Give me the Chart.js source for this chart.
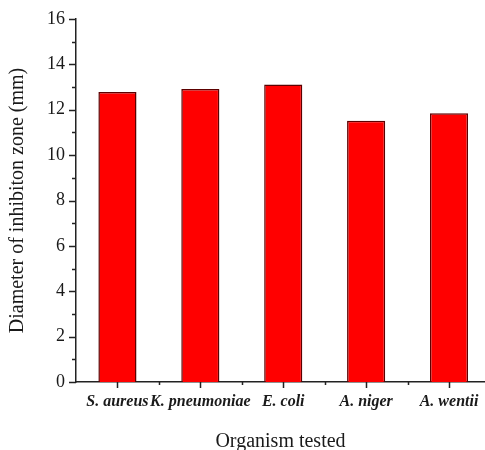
<!DOCTYPE html>
<html>
<head>
<meta charset="utf-8">
<script src="https://cdn.jsdelivr.net/npm/chart.js@4/dist/chart.umd.min.js"></script>
<style>
  html, body { margin: 0; padding: 0; background: #ffffff; }
  #wrap { width: 485px; height: 450px; }
</style>
</head>
<body>
<div id="wrap"><canvas id="chart" width="485" height="450"></canvas></div>
<script>
// Organisms tested and the measured inhibition zone diameters (mm)
const organisms = ['S. aureus', 'K. pneumoniae', 'E. coli', 'A. niger', 'A. wentii'];
const zoneDiameter = [12.78, 12.92, 13.11, 11.52, 11.85];
const yTicks = [0, 2, 4, 6, 8, 10, 12, 14, 16];

const textColor = '#1a1a1a';
const axisColor = '#222222';
const serif = "'Liberation Serif', 'Times New Roman', serif";

// Short outward tick marks: major ticks on labelled values, minor ones between them
const tickMarks = {
  id: 'tickMarks',
  afterDraw(chart) {
    const { ctx, scales: { x, y }, chartArea } = chart;
    ctx.save();
    ctx.strokeStyle = axisColor;
    ctx.lineWidth = 1.5;
    ctx.beginPath();
    // y axis
    for (let v = 0; v <= 16; v += 1) {
      const py = Math.round(y.getPixelForValue(v)) + 0.5;
      const len = v % 2 === 0 ? 7 : 4;
      ctx.moveTo(chartArea.left, py);
      ctx.lineTo(chartArea.left - len, py);
    }
    // x axis
    for (let i = 0; i < organisms.length; i++) {
      const px = Math.round(x.getPixelForValue(i)) + 0.5;
      ctx.moveTo(px, chartArea.bottom);
      ctx.lineTo(px, chartArea.bottom + 6);
      const pm = Math.round(x.getPixelForValue(i + 0.5)) + 0.5;
      if (pm < chart.width) {
        ctx.moveTo(pm, chartArea.bottom);
        ctx.lineTo(pm, chartArea.bottom + 3);
      }
    }
    ctx.stroke();
    ctx.restore();
  }
};

new Chart(document.getElementById('chart'), {
  type: 'bar',
  data: {
    datasets: [{
      data: organisms.map((name, i) => ({ x: i, y: zoneDiameter[i] })),
      backgroundColor: '#ff0000',
      borderColor: '#5c0000',
      borderWidth: 1.5,
      barPercentage: 0.46,
      categoryPercentage: 1
    }]
  },
  plugins: [tickMarks],
  options: {
    responsive: false,
    animation: false,
    devicePixelRatio: 1,
    layout: { padding: { top: 19, right: 0, bottom: 0, left: 0 } },
    plugins: { legend: { display: false }, tooltip: { enabled: false } },
    scales: {
      x: {
        type: 'linear',
        offset: false,
        min: -0.5,
        max: 4.434,
        afterBuildTicks(scale) {
          scale.ticks = organisms.map((_, i) => ({ value: i }));
        },
        afterFit(scale) {
          scale.height = 68;
          scale.paddingLeft = 0;
          scale.paddingRight = 0;
        },
        grid: { display: false, drawTicks: false, offset: false },
        border: { display: true, color: axisColor, width: 1.5 },
        ticks: {
          autoSkip: false,
          maxRotation: 0,
          padding: 10,
          color: textColor,
          font: { family: serif, size: 16, weight: 'bold', style: 'italic' },
          callback: (v) => organisms[v]
        },
        title: {
          display: true,
          text: 'Organism tested',
          color: textColor,
          font: { family: serif, size: 20, lineHeight: 1 },
          padding: { top: 0, bottom: -2 }
        }
      },
      y: {
        min: 0,
        max: 16,
        afterBuildTicks(scale) {
          scale.ticks = yTicks.map(v => ({ value: v }));
        },
        afterFit(scale) {
          scale.width = 76;
          scale.paddingTop = 0;
          scale.paddingBottom = 0;
        },
        grid: { display: false, drawTicks: false },
        border: { display: true, color: axisColor, width: 1.5 },
        ticks: {
          padding: 11,
          color: textColor,
          font: { family: serif, size: 18 }
        },
        title: {
          display: true,
          text: 'Diameter of inhibiton zone (mm)',
          color: textColor,
          font: { family: serif, size: 20, lineHeight: 1.2 },
          padding: { top: 6, bottom: 0 }
        }
      }
    }
  }
});
</script>
</body>
</html>
